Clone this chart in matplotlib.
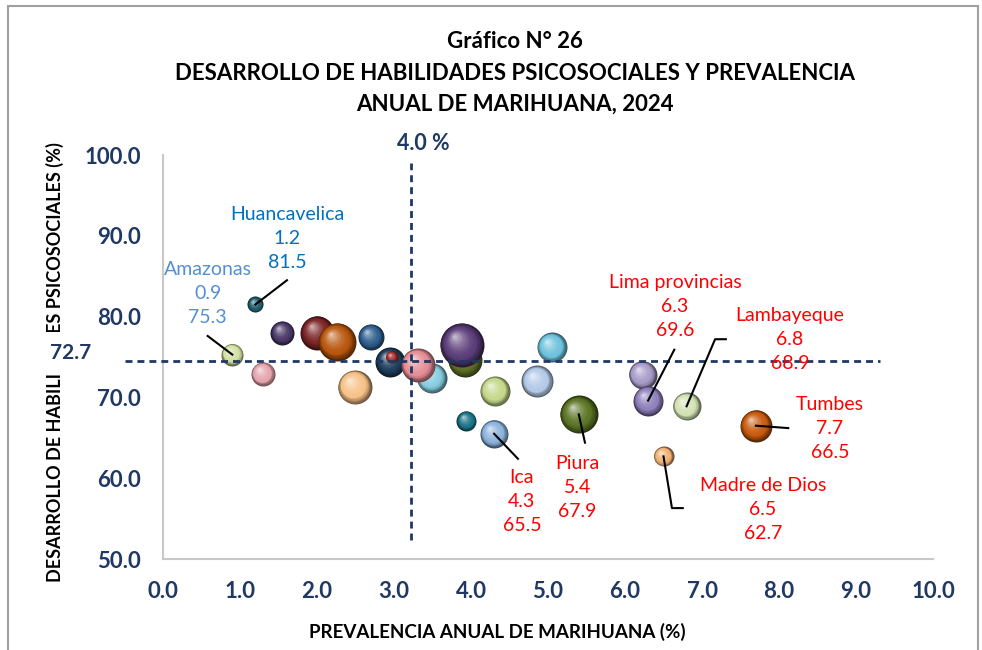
import numpy as np
import matplotlib
matplotlib.use("Agg")
import matplotlib.pyplot as plt
from matplotlib.colors import to_rgb
from matplotlib.transforms import offset_copy
from matplotlib.patches import Rectangle

plt.rcParams['font.family'] = ['Lato', 'DejaVu Sans']

# Datos: prevalencia anual de marihuana (%) y desarrollo de habilidades (%)
regiones = ["Huancavelica", "Amazonas", None, None, None, None, None, None,
            None, None, None, None, None, None, None, None, "Ica", None,
            None, "Piura", None, "Lima provincias", "Lambayeque", "Tumbes",
            "Madre de Dios"]
prevalencia = [1.2, 0.9, 1.3, 1.55, 2.0, 2.26, 2.7, 2.49, 2.95, 2.97, 3.49,
               3.31, 3.92, 3.88, 3.94, 4.31, 4.3, 5.05, 4.86, 5.4, 6.23,
               6.3, 6.8, 7.7, 6.5]
habilidades = [81.5, 75.3, 72.9, 78.0, 78.0, 76.9, 77.5, 71.3, 74.4, 75.0,
               72.4, 74.0, 74.6, 76.5, 67.1, 70.8, 65.5, 76.2, 72.0, 67.9,
               72.8, 69.6, 68.9, 66.5, 62.7]
burbuja = [8, 11, 12, 12, 17, 19, 13, 17, 15, 6, 15, 17, 17, 22, 10, 15, 14,
           15, 16, 19, 14, 15, 14, 16, 10]

prom_x_txt, prom_y_txt = "4.0 %", "72.7"
linea_x, linea_y = 3.22, 74.5

colores = ["#1d5d6b", "#d3e0a0", "#e6a5ae", "#4b3868", "#7b2426", "#b8560c",
           "#2e5e8e", "#f7c187", "#1e3d5c", "#a52a2a", "#86cde0", "#e48d96",
           "#5d6e24", "#5a3c78", "#1b7387", "#c5d88a", "#8db3de", "#6fc2de",
           "#b3c9e8", "#5b7424", "#a89bc9", "#8f80bd", "#d3e2b4", "#c85a0e",
           "#f0b274"]

NAVY = "#1f3864"

fig = plt.figure(figsize=(9.82, 6.5), dpi=100)
ax = fig.add_axes([163 / 982, 1 - 559 / 650, 770 / 982, 404 / 650])
ax.set_xlim(0, 10)
ax.set_ylim(50, 100)


def esfera(x, y, r_px, color):
    base = np.array(to_rgb(color))
    dark = base * 0.45
    light = base + (1 - base) * 0.75
    r_pt = r_px * 0.72
    hx, hy = -0.35 * r_pt, 0.42 * r_pt
    n = 20
    for i in range(n):
        t = i / n
        rad = r_pt * (1 - t)
        if t < 0.25:
            c = dark + (base - dark) * (t / 0.25)
        else:
            c = base + (light - base) * ((t - 0.25) / 0.75) ** 1.6
        tr = offset_copy(ax.transData, fig=fig, x=hx * t, y=hy * t, units='points')
        ax.scatter([x], [y], s=(2 * rad) ** 2, color=np.clip(c, 0, 1),
                   transform=tr, lw=0, zorder=3)


for x, y, r, c in zip(prevalencia, habilidades, burbuja, colores):
    esfera(x, y, r, c)

# lineas de referencia
ax.plot([linea_x, linea_x], [52.4, 99.0], color=NAVY, lw=2, ls=(0, (2.5, 1.8)),
        zorder=5, clip_on=False)
ax.plot([-0.49, 9.31], [linea_y, linea_y], color=NAVY, lw=2, ls=(0, (2.5, 1.8)),
        zorder=5, clip_on=False)

# etiquetas de datos
etiquetas = {
    "Huancavelica": ((1.61, 89.7), [(1.61, 84.5)], "#0070c0"),
    "Amazonas": ((0.58, 82.9), [(0.58, 77.6)], "#558ed5"),
    "Lima provincias": ((6.65, 81.2), [(6.64, 75.9)], "#ff0000"),
    "Lambayeque": ((8.14, 77.2), [(7.17, 77.2), (7.31, 77.2)], "#ff0000"),
    "Tumbes": ((8.66, 66.1), [(8.12, 66.2)], "#ff0000"),
    "Madre de Dios": ((7.79, 56.1), [(6.61, 56.3), (6.75, 56.3)], "#ff0000"),
    "Piura": ((5.38, 58.9), [(5.48, 64.4)], "#ff0000"),
    "Ica": ((4.66, 57.1), [(4.61, 62.4)], "#ff0000"),
}
for nombre, x, y in zip(regiones, prevalencia, habilidades):
    if nombre is None:
        continue
    pos, guia, col = etiquetas[nombre]
    xs = [x] + [p[0] for p in guia]
    ys = [y] + [p[1] for p in guia]
    ax.plot(xs, ys, color="black", lw=1.5, zorder=6, clip_on=False)
    ax.text(pos[0], pos[1], f"{nombre}\n{x:.1f}\n{y:.1f}", color=col,
            fontsize=14, ha="center", va="center", linespacing=1.5, zorder=7)

# ejes
for s in ["top", "right"]:
    ax.spines[s].set_visible(False)
for s in ["left", "bottom"]:
    ax.spines[s].set_color("#c8c8c8")
    ax.spines[s].set_linewidth(1.5)
ax.set_xticks(np.arange(0, 10.1, 1))
ax.set_yticks(np.arange(50, 100.1, 10))
ax.set_xticklabels([f"{v:.1f}" for v in np.arange(0, 10.1, 1)])
ax.set_yticklabels([f"{v:.1f}" for v in np.arange(50, 100.1, 10)])
ax.tick_params(length=0, labelsize=16, labelcolor=NAVY)
ax.tick_params(axis="x", pad=16)
ax.tick_params(axis="y", pad=16)
for lab in ax.get_xticklabels() + ax.get_yticklabels():
    lab.set_fontweight("bold")

fig.text(497 / 982, 1 - 632 / 650, "PREVALENCIA ANUAL DE MARIHUANA (%)",
         fontsize=13.5, fontweight="bold", ha="center", va="center")
fig.text(55 / 982, 1 - 362 / 650, "DESARROLLO DE HABILIDADES PSICOSOCIALES (%)",
         fontsize=13, fontweight="bold", ha="center", va="center", rotation=90)
fig.text(71 / 982, 1 - 353 / 650, prom_y_txt, fontsize=15, fontweight="bold",
         color=NAVY, ha="center", va="center",
         bbox=dict(facecolor="white", edgecolor="none", pad=8))
fig.text(423 / 982, 1 - 144 / 650, prom_x_txt, fontsize=15.5, fontweight="bold",
         color=NAVY, ha="center", va="center")

# titulo
titulo = ["Gráfico N° 26",
          "DESARROLLO DE HABILIDADES PSICOSOCIALES Y PREVALENCIA",
          "ANUAL DE MARIHUANA, 2024"]
for yy, t in zip([41, 73, 104], titulo):
    fig.text(515 / 982, 1 - yy / 650, t, fontsize=16, fontweight="bold",
             ha="center", va="center")

fig.patches.append(Rectangle((8 / 982, -0.01), 970 / 982, 1 - 6 / 650 + 0.01,
                             transform=fig.transFigure, fill=False,
                             edgecolor="#a0a0a0", lw=1.5))

fig.savefig("out.png", dpi=100)
